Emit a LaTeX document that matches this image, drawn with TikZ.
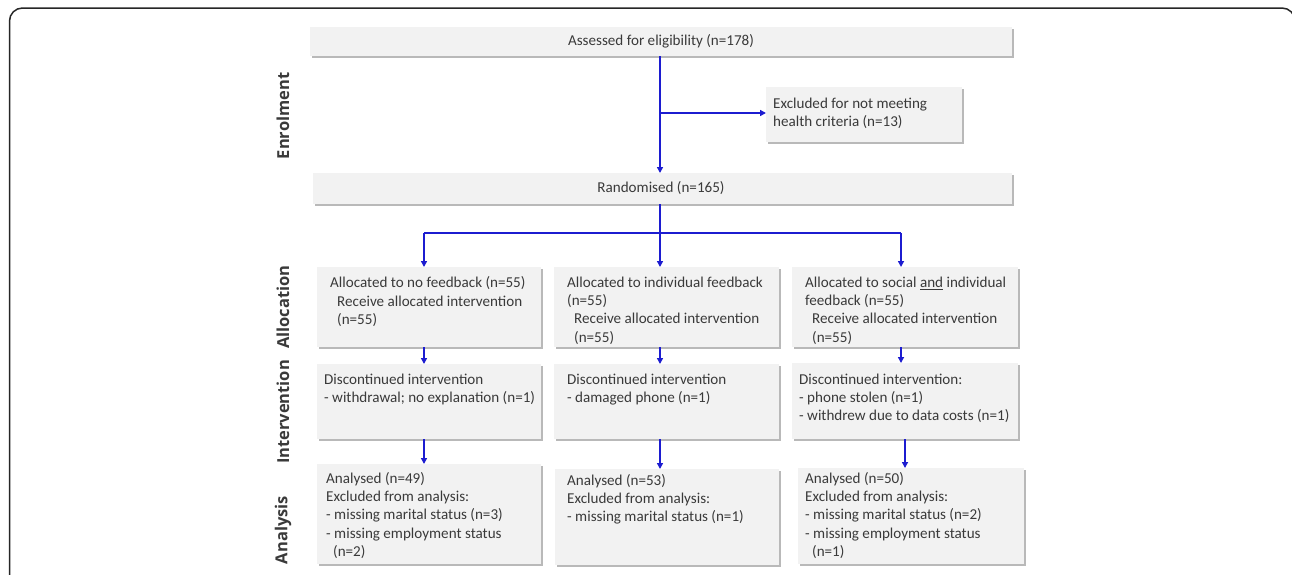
\documentclass[tikz,border=0pt]{standalone}
\usepackage{fontspec}
\setmainfont{Carlito}
\newfontfamily\sidefont{Open Sans}
\usetikzlibrary{arrows.meta,shadows}
\definecolor{boxfill}{HTML}{F2F2F2}
\definecolor{shadowcol}{HTML}{A8A8A8}
\definecolor{arrowcol}{HTML}{1C1CD0}
\definecolor{txtcol}{HTML}{3A3A3A}
\tikzset{
  box/.style={fill=boxfill, draw=none, inner sep=0pt, anchor=north west,
    drop shadow={shadow xshift=2.2pt, shadow yshift=-2.2pt, fill=shadowcol, opacity=0.8}},
  txt/.style={anchor=north west, inner sep=0pt, align=left, text=txtcol,
    font=\fontsize{15.1}{18.3}\selectfont},
  ctxt/.style={inner sep=0pt, text=txtcol, font=\fontsize{15.1}{18.3}\selectfont},
  side/.style={rotate=90, inner sep=0pt, text=txtcol, font=\sidefont\bfseries\fontsize{16.5}{20}\selectfont},
  conn/.style={draw=arrowcol, line width=1.7pt},
  arr/.style={conn, -{Triangle[length=6pt,width=6pt]}},
}
\begin{document}
\begin{tikzpicture}[x=1pt,y=-1pt]
\useasboundingbox (0,0) rectangle (1292,574);
\fill[white] (0,0) rectangle (1292,574);
% outer frame
\draw[line width=1.5pt, rounded corners=13pt, black!85] (9.5,8) rectangle (1295,640);

% boxes
\node[box, minimum width=702pt, minimum height=29pt] (assess) at (310,27) {};
\node[ctxt] (assesst) at (661,41.5) {Assessed for eligibility (n=178)};
\node[box, minimum width=196pt, minimum height=55pt] (excl) at (766,87) {};
\node[txt] (exclt) at (773,98) {Excluded for not meeting\\health criteria (n=13)};
\node[box, minimum width=699pt, minimum height=31pt] (rand) at (313,173) {};
\node[ctxt] (randt) at (661,188.5) {Randomised (n=165)};

\node[box, minimum width=224pt, minimum height=80pt] (allocA) at (317,267) {};
\node[txt] (allocAt) at (330,276.5) {Allocated to no feedback (n=55)\\\hspace*{7pt}Receive allocated intervention\\\hspace*{7pt}(n=55)};
\node[box, minimum width=225pt, minimum height=80pt] (allocB) at (554,267) {};
\node[txt] (allocBt) at (567,276.5) {Allocated to individual feedback\\(n=55)\\\hspace*{7pt}Receive allocated intervention\\\hspace*{7pt}(n=55)};
\node[box, minimum width=226pt, minimum height=80pt] (allocC) at (792,267) {};
\node[txt] (allocCt) at (805,276.5) {Allocated to social \underline{and} individual\\feedback (n=55)\\\hspace*{7pt}Receive allocated intervention\\\hspace*{7pt}(n=55)};

\node[box, minimum width=224pt, minimum height=75pt] (intA) at (317,364) {};
\node[txt] (intAt) at (324,374) {Discontinued intervention\\- withdrawal; no explanation (n=1)};
\node[box, minimum width=225pt, minimum height=75pt] (intB) at (554,364) {};
\node[txt] (intBt) at (567,374) {Discontinued intervention\\- damaged phone (n=1)};
\node[box, minimum width=226pt, minimum height=76pt] (intC) at (792,363) {};
\node[txt] (intCt) at (799,373.5) {Discontinued intervention:\\- phone stolen (n=1)\\- withdrew due to data costs (n=1)};

\node[box, minimum width=224pt, minimum height=100pt] (anaA) at (317,464) {};
\node[txt] (anaAt) at (326,472) {Analysed (n=49)\\Excluded from analysis:\\- missing marital status (n=3)\\- missing employment status\\\hspace*{7pt}(n=2)};
\node[box, minimum width=224pt, minimum height=96pt] (anaB) at (555,469) {};
\node[txt] (anaBt) at (567,474) {Analysed (n=53)\\Excluded from analysis:\\- missing marital status (n=1)};
\node[box, minimum width=226pt, minimum height=96pt] (anaC) at (798,468) {};
\node[txt] (anaCt) at (805,472) {Analysed (n=50)\\Excluded from analysis:\\- missing marital status (n=2)\\- missing employment status\\\hspace*{7pt}(n=1)};

% side labels
\node[side] (lenrol) at (283,116) {Enrolment};
\node[side] (lalloc) at (283,307) {Allocation};
\node[side] (linter) at (283,412) {Intervention};
\node[side] (lanal) at (283,530) {Analysis};

% connectors
\coordinate (split) at (660,233);
\coordinate (branch) at (660,113);
\draw[arr] (assess.south -| branch) -- (rand.north -| branch);
\draw[arr] (branch) -- (excl.west |- branch);
\draw[conn] (rand.south -| split) -- (split);
\coordinate (sA) at (424,233);
\coordinate (sC) at (901,233);
\draw[conn] (sA) -- (sC);
\draw[arr] (sA) -- (allocA.north -| sA);
\draw[arr] (split) -- (allocB.north -| split);
\draw[arr] (sC) -- (allocC.north -| sC);
\draw[arr] (allocA.south -| sA) -- (intA.north -| sA);
\draw[arr] (allocB.south -| split) -- (intB.north -| split);
\draw[arr] (allocC.south -| sC) -- (intC.north -| sC);
\coordinate (cC) at (905,0);
\draw[arr] (intA.south -| sA) -- (anaA.north -| sA);
\draw[arr] (intB.south -| split) -- (anaB.north -| split);
\draw[arr] (intC.south -| cC) -- (anaC.north -| cC);
\end{tikzpicture}
\end{document}
